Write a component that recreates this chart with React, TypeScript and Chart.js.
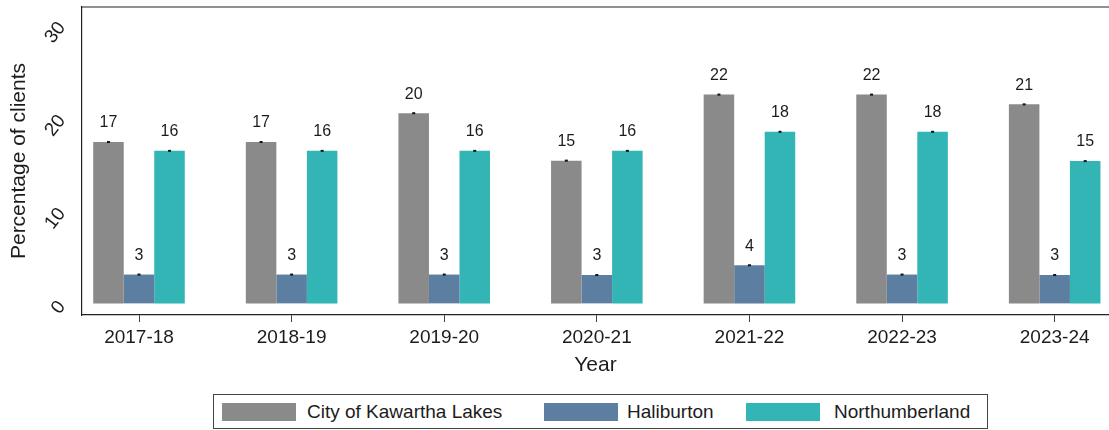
import React, { useEffect, useRef } from "react";
import { Chart, registerables } from "chart.js";

Chart.register(...registerables);

const years = ["2017-18", "2018-19", "2019-20", "2020-21", "2021-22", "2022-23", "2023-24"];
const kawartha = [17.35, 17.35, 20.45, 15.35, 22.45, 22.45, 21.4];
const haliburton = [3.1, 3.1, 3.1, 3.05, 4.1, 3.1, 3.05];
const northumberland = [16.4, 16.4, 16.4, 16.4, 18.45, 18.45, 15.3];
const yTicks = [0, 10, 20, 30];
const seriesNames = ["City of Kawartha Lakes", "Haliburton", "Northumberland"];
const seriesColors = ["#8a8a8a", "#5c7ea0", "#33b5b5"];

const FONT = "'Liberation Sans', Arial, sans-serif";
const INK = "#1c1c1c";
const CANVAS_W = 1109;
const CANVAS_H = 388;

const framePlugin = {
  id: "frameTop",
  afterDraw(chart: any) {
    const { ctx, chartArea } = chart;
    ctx.save();
    ctx.strokeStyle = "#222";
    ctx.lineWidth = 1.2;
    ctx.beginPath();
    ctx.moveTo(chartArea.left, chartArea.top);
    ctx.lineTo(chartArea.right, chartArea.top);
    ctx.stroke();
    ctx.restore();
  },
};

const labelPlugin = {
  id: "barLabels",
  afterDatasetsDraw(chart: any) {
    const { ctx } = chart;
    ctx.save();
    chart.data.datasets.forEach((ds: any, di: number) => {
      const meta = chart.getDatasetMeta(di);
      meta.data.forEach((bar: any, i: number) => {
        const v = ds.data[i].y;
        ctx.fillStyle = "#111";
        ctx.fillRect(bar.x - 1.5, bar.y - 1, 3, 2);
        ctx.font = `16px ${FONT}`;
        ctx.fillStyle = INK;
        ctx.textAlign = "center";
        ctx.textBaseline = "middle";
        ctx.fillText(String(Math.round(v)), bar.x, bar.y - 19);
      });
    });
    ctx.restore();
  },
};

const zeroPad = (scale: any) => {
  scale.paddingTop = 0;
  scale.paddingBottom = 0;
  scale.paddingLeft = 0;
  scale.paddingRight = 0;
};

export default function App() {
  const ref = useRef<HTMLCanvasElement | null>(null);

  useEffect(() => {
    document.body.style.margin = "0";
    if (!ref.current) return;
    const series = [kawartha, haliburton, northumberland];
    const chart = new Chart(ref.current, {
      type: "bar",
      data: {
        datasets: series.map((vals, si) => ({
          label: seriesNames[si],
          data: vals.map((v, i) => ({ x: i, y: v })),
          backgroundColor: seriesColors[si],
          borderWidth: 0,
          categoryPercentage: 0.6,
          barPercentage: 1,
        })),
      },
      options: {
        animation: false,
        responsive: false,
        devicePixelRatio: 1,
        layout: { padding: { top: 7, right: 0, left: 0, bottom: 0 } },
        plugins: {
          legend: { display: false },
          tooltip: { enabled: false },
        },
        scales: {
          x: {
            type: "linear",
            min: -0.3735,
            max: 6.356,
            offset: false,
            ticks: {
              stepSize: 1,
              includeBounds: false,
              autoSkip: false,
              maxRotation: 0,
              color: INK,
              font: { family: FONT, size: 19 },
              padding: 4,
              callback: (v: any) => (Number.isInteger(v) ? years[v] ?? "" : ""),
            },
            grid: {
              display: true,
              offset: false,
              drawOnChartArea: false,
              drawTicks: true,
              tickLength: 7,
              tickColor: "#444",
              tickWidth: 1,
            },
            border: { display: true, color: "#222", width: 1.2 },
            title: {
              display: true,
              text: "Year",
              color: INK,
              font: { family: FONT, size: 21 },
              padding: { top: 0, bottom: 10 },
            },
            afterFit(scale: any) {
              scale.height = CANVAS_H - 315;
              zeroPad(scale);
            },
          },
          y: {
            min: -1.25,
            max: 31.87,
            ticks: {
              stepSize: 10,
              includeBounds: false,
              minRotation: 52,
              maxRotation: 52,
              color: INK,
              font: { family: FONT, size: 19 },
              padding: 20,
              callback: (v: any) => (yTicks.includes(v) ? String(v) : ""),
            },
            grid: { display: false, drawTicks: false },
            border: { display: true, color: "#222", width: 1.2 },
            title: {
              display: true,
              text: "Percentage of clients",
              color: INK,
              font: { family: FONT, size: 21 },
              padding: { top: 7, bottom: 0 },
            },
            afterFit(scale: any) {
              scale.width = 82;
              zeroPad(scale);
            },
          },
        },
      },
      plugins: [framePlugin, labelPlugin],
    });
    return () => chart.destroy();
  }, []);

  const swatchX = [222, 544, 746];
  const textX = [307, 627, 834];

  return (
    <div style={{ position: "relative", width: CANVAS_W, height: 430, background: "#fff", fontFamily: FONT }}>
      <canvas ref={ref} width={CANVAS_W} height={CANVAS_H} style={{ display: "block" }} />
      <div
        style={{
          position: "absolute",
          left: 213,
          top: 394,
          width: 775,
          height: 35,
          border: "1px solid #444",
          boxSizing: "border-box",
        }}
      />
      {seriesNames.map((name, i) => (
        <React.Fragment key={name}>
          <div
            style={{
              position: "absolute",
              left: swatchX[i],
              top: 403,
              width: 74,
              height: 18,
              background: seriesColors[i],
            }}
          />
          <div
            style={{
              position: "absolute",
              left: textX[i],
              top: 399,
              height: 26,
              lineHeight: "26px",
              fontSize: 19,
              color: INK,
              whiteSpace: "nowrap",
            }}
          >
            {name}
          </div>
        </React.Fragment>
      ))}
    </div>
  );
}
